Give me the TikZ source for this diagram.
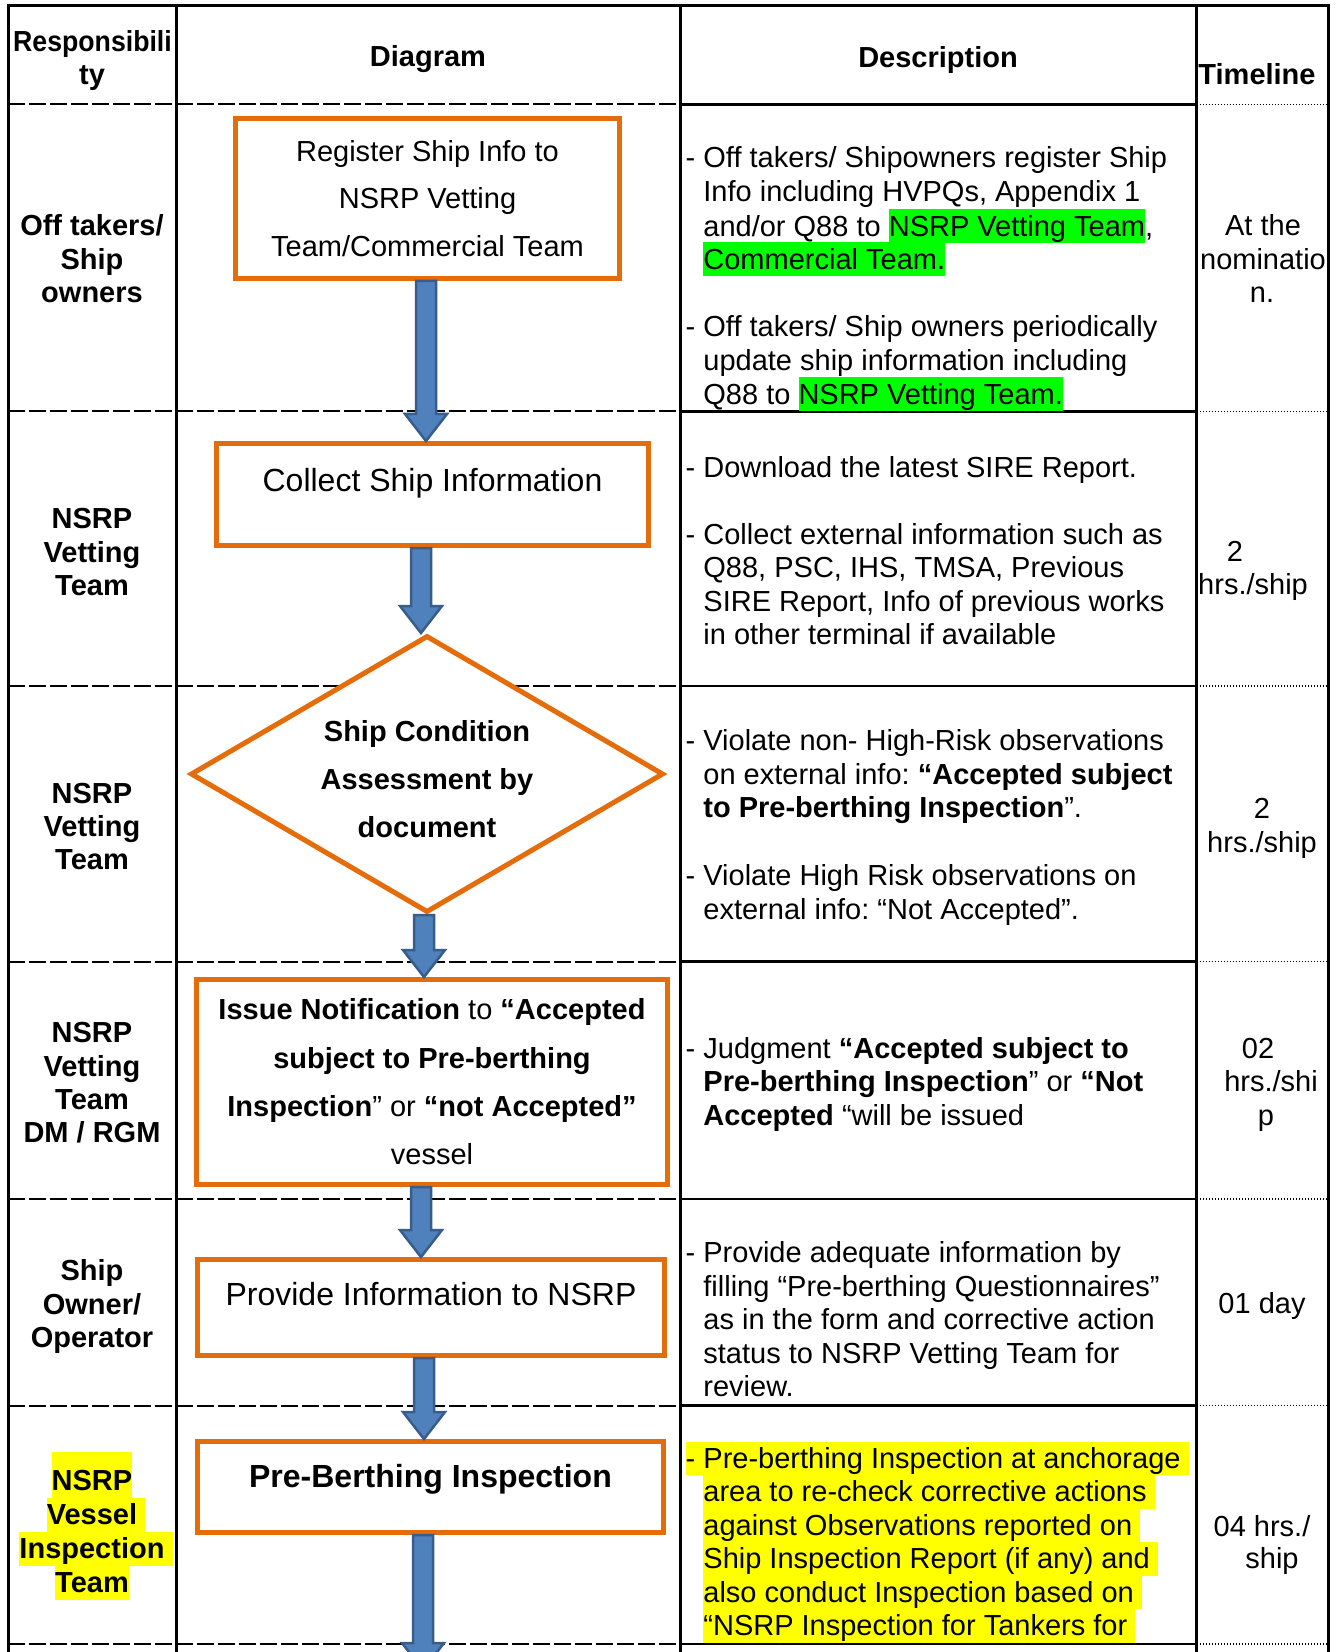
\documentclass[tikz,border=0pt]{standalone}
\usepackage{fontspec}
\setmainfont{Liberation Sans}
\usepackage{graphicx}
\usetikzlibrary{calc,shapes.geometric}
\definecolor{boxorange}{HTML}{E46C0A}
\definecolor{arrowfill}{HTML}{4F81BD}
\definecolor{arrowline}{HTML}{385D8A}
\definecolor{hlgreen}{HTML}{00FF00}
\definecolor{hlyellow}{HTML}{FFFF00}
\newcommand\fsbody{\fontsize{14.5pt}{16.75pt}\selectfont}
\newcommand\fsbig{\fontsize{16pt}{19pt}\selectfont}
\newcommand\hlG[1]{{\setlength\fboxsep{0pt}\colorbox{hlgreen}{\rule[-3.25pt]{0pt}{17pt}#1}}}
\newcommand\hlY[1]{{\setlength\fboxsep{0pt}\colorbox{hlyellow}{\rule[-3.5pt]{0pt}{16.75pt}#1}}}
\newcommand\hlL[1]{{\setlength\fboxsep{0pt}\colorbox{hlyellow}{\rule[-3.75pt]{0pt}{17pt}#1}}}
\newcommand\hlLtop[1]{{\setlength\fboxsep{0pt}\colorbox{hlyellow}{\rule[-3.75pt]{0pt}{22.75pt}#1}}}
\newcommand\bdash{\llap{- }}
\newcommand\blockarrow[3]{%
  \draw[barrow] ($(#1 -| #3)+(-10,0)$) -- ($(#1 -| #3)+(10,0)$)
    -- ($(#2 -| #3)+(10,-27)$) -- ($(#2 -| #3)+(21,-27)$)
    -- (#2 -| #3) -- ($(#2 -| #3)+(-21,-27)$)
    -- ($(#2 -| #3)+(-10,-27)$) -- cycle;}
\begin{document}
\frenchspacing
\begin{tikzpicture}[x=0.5pt,y=-0.5pt,
  txt/.style={inner sep=0pt, font=\fsbody},
  hd/.style={inner sep=0pt, anchor=base, font=\fsbody\bfseries},
  lbl/.style={inner sep=0pt, anchor=base, font=\fsbody\bfseries},
  desc/.style={txt, anchor=base west},
  tml/.style={txt, anchor=base},
  flowbox/.style={rectangle, draw=boxorange, line width=2.5pt, fill=white, inner sep=0pt},
  barrow/.style={fill=arrowfill, draw=arrowline, line width=1.25pt, line join=miter},
  vrule/.style={line width=1.5pt, line cap=rect},
  dashrule/.style={line width=1pt, dash pattern=on 8.5pt off 2pt},
  solidrule/.style={line width=1.1pt},
  dotrule/.style={line width=0.7pt, dash pattern=on 0.7pt off 0.8pt}]

\useasboundingbox (0,0) rectangle (1338,1652);
\clip (0,0) rectangle (1338,1652);
\fill[white] (0,0) rectangle (1338,1652);

% ---------- table grid ----------
\foreach \yy in {104.5,411.5,686,961.5,1199,1405.5,1644} {
  \draw[dashrule] (8,\yy) -- (680.5,\yy);
  \draw[solidrule] (680.5,\yy) -- (1196.5,\yy);
  \draw[dotrule] (1196.5,\yy) -- (1328,\yy);
}
\draw[vrule] (8,6) -- (1328,6);
\foreach \xx in {8,176.5,680.5,1196.5,1328}
  \draw[vrule] (\xx,6) -- (\xx,1665);

% ---------- header ----------
\node[hd] (hresp1) at (92.5,52) {\scalebox{0.92}[1]{Responsibili}};
\node[hd] (hresp2) at (92,85) {ty};
\node[hd] (hdiag) at (428,67) {Diagram};
\node[hd] (hdesc) at (938,68) {Description};
\node[hd] (htime) at (1257,85) {Timeline};

% ---------- responsibility column ----------
\node[lbl] (l1a) at (92,236) {Off takers/};
\node[lbl] (l1b) at (92,269.5) {Ship};
\node[lbl] (l1c) at (92,303) {owners};
\node[lbl] (l2a) at (92,528) {NSRP};
\node[lbl] (l2b) at (92,562) {Vetting};
\node[lbl] (l2c) at (92,595) {Team};
\node[lbl] (l3a) at (92,803) {NSRP};
\node[lbl] (l3b) at (92,836) {Vetting};
\node[lbl] (l3c) at (92,869) {Team};
\node[lbl] (l4a) at (92,1042) {NSRP};
\node[lbl] (l4b) at (92,1076) {Vetting};
\node[lbl] (l4c) at (92,1109) {Team};
\node[lbl] (l4d) at (92,1142) {DM / RGM};
\node[lbl] (l5a) at (92,1280) {Ship};
\node[lbl] (l5b) at (92,1314) {Owner/};
\node[lbl] (l5c) at (92,1347) {Operator};
\node[lbl] (l6a) at (92,1490) {\hlLtop{NSRP}};
\node[lbl] (l6b) at (92,1524) {\hlL{Vessel}\rlap{\hlL{\ }}};
\node[lbl] (l6c) at (92,1558) {\hlL{Inspection}\rlap{\hlL{\ }}};
\node[lbl] (l6d) at (92,1592) {\hlL{Team}};

% ---------- description column ----------
\node[desc] (d1a) at (703,168) {\bdash Off takers/ Shipowners register Ship};
\node[desc] (d1b) at (703,202) {Info including HVPQs, Appendix 1};
\node[desc] (d1c) at (703,236.5) {and/or Q88 to \hlG{NSRP Vetting Team},};
\node[desc] (d1d) at (703,269.5) {\hlG{Commercial Team.}};
\node[desc] (d1e) at (703,337) {\bdash Off takers/ Ship owners periodically};
\node[desc] (d1f) at (703,371) {update ship information including};
\node[desc] (d1g) at (703,404.5) {Q88 to \hlG{NSRP Vetting Team.}};

\node[desc] (d2a) at (703,477) {\bdash Download the latest SIRE Report.};
\node[desc] (d2b) at (703,544) {\bdash Collect external information such as};
\node[desc] (d2c) at (703,577.5) {Q88, PSC, IHS, TMSA, Previous};
\node[desc] (d2d) at (703,611) {SIRE Report, Info of previous works};
\node[desc] (d2e) at (703,644.5) {in other terminal if available};

\node[desc] (d3a) at (703,750.5) {\bdash Violate non- High-Risk observations};
\node[desc] (d3b) at (703,784) {on external info: \textbf{“Accepted subject}};
\node[desc] (d3c) at (703,817.5) {\textbf{to Pre-berthing Inspection}”.};
\node[desc] (d3d) at (703,885.5) {\bdash Violate High Risk observations on};
\node[desc] (d3e) at (703,919) {external info: “Not Accepted”.};

\node[desc] (d4a) at (703,1058) {\bdash Judgment \textbf{“Accepted subject to}};
\node[desc] (d4b) at (703,1091.5) {\textbf{Pre-berthing Inspection}” or \textbf{“Not}};
\node[desc] (d4c) at (703,1125) {\textbf{Accepted} “will be issued};

\node[desc] (d5a) at (703,1262) {\bdash Provide adequate information by};
\node[desc] (d5b) at (703,1296) {filling “Pre-berthing Questionnaires”};
\node[desc] (d5c) at (703,1329.5) {as in the form and corrective action};
\node[desc] (d5d) at (703,1363) {status to NSRP Vetting Team for};
\node[desc] (d5e) at (703,1396.5) {review.};

\node[desc] (d6a) at (703,1468) {\llap{\hlY{- }}\hlY{Pre-berthing Inspection at anchorage\ }};
\node[desc] (d6b) at (703,1501.5) {\hlY{area to re-check corrective actions\ }};
\node[desc] (d6c) at (703,1535) {\hlY{against Observations reported on\ }};
\node[desc] (d6d) at (703,1568.5) {\hlY{Ship Inspection Report (if any) and\ }};
\node[desc] (d6e) at (703,1602) {\hlY{also conduct Inspection based on\ }};
\node[desc] (d6f) at (703,1635.5) {\hlY{“NSRP Inspection for Tankers for\ }};

% ---------- timeline column ----------
\node[tml] (t1a) at (1263,236) {At the};
\node[tml] (t1b) at (1263,269.5) {nominatio};
\node[tml] (t1c) at (1262,303) {n.};
\node[tml] (t2a) at (1235,561) {2};
\node[tml] (t2b) at (1253,594.5) {hrs./ship};
\node[tml] (t3a) at (1262,818) {2};
\node[tml] (t3b) at (1262,852) {hrs./ship};
\node[tml] (t4a) at (1258,1058) {02};
\node[tml] (t4b) at (1271,1091.5) {hrs./shi};
\node[tml] (t4c) at (1266,1125) {p};
\node[tml] (t5a) at (1262,1313) {01 day};
\node[tml] (t6a) at (1262,1536) {04 hrs./};
\node[tml] (t6b) at (1272,1568.5) {ship};

% ---------- flow chart ----------
\node[flowbox, minimum width=192pt, minimum height=80pt, align=center,
      font=\fontsize{14.5pt}{23.75pt}\selectfont] (b1) at (427.5,198.5)
      {Register Ship Info to\\NSRP Vetting\\Team/Commercial Team};
\node[flowbox, anchor=base, minimum width=216pt, text height=23.75pt, text depth=27.25pt,
      font=\fsbig] (b2) at (432.5,491) {Collect Ship Information};
\node[diamond, draw=boxorange, line width=2.5pt, fill=white, inner sep=0pt,
      minimum width=236.5pt, minimum height=138.5pt] (dia) at (427,774) {};
\node[inner sep=0pt, align=center, font=\fontsize{14.5pt}{23.85pt}\selectfont\bfseries]
      (diatext) at (427,779) {Ship Condition\\Assessment by\\document};
\node[flowbox, minimum width=235.5pt, minimum height=102.5pt, align=center,
      font=\fontsize{14.5pt}{24.15pt}\selectfont] (b4) at (432,1082)
      {\textbf{Issue Notification} to \textbf{“Accepted}\\\textbf{subject to Pre-berthing}\\\textbf{Inspection}” or \textbf{“not Accepted”}\\vessel};
\node[flowbox, anchor=base, minimum width=233.5pt, text height=22.75pt, text depth=25.25pt,
      font=\fsbig] (b5) at (431,1305) {Provide Information to NSRP};
\node[flowbox, anchor=base, minimum width=233pt, text height=22.75pt, text depth=22.75pt,
      font=\fsbig\bfseries] (b6) at (430.5,1487) {Pre-Berthing Inspection};

\coordinate (ax1) at (426,0);
\coordinate (ax2) at (421,0);
\coordinate (ax3) at (424,0);
\coordinate (ax4) at (421,0);
\coordinate (ax5) at (424,0);
\coordinate (ax6) at (423,0);
\coordinate (aend) at (423,1670);

\blockarrow{b1.south}{b2.north}{ax1}
\blockarrow{b2.south}{dia.north}{ax2}
\blockarrow{dia.south}{b4.north}{ax3}
\blockarrow{b4.south}{b5.north}{ax4}
\blockarrow{b5.south}{b6.north}{ax5}
\blockarrow{b6.south}{aend}{ax6}
\end{tikzpicture}
\end{document}
